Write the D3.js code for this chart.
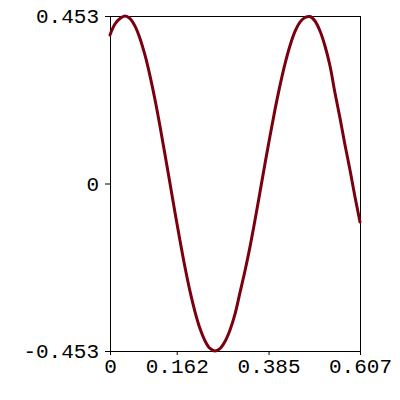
<!DOCTYPE html>
<html><head><meta charset="utf-8">
<script src="https://cdn.jsdelivr.net/npm/d3@7"></script>
<style>
html,body{margin:0;padding:0;background:#fff;}
svg{display:block;}
.tick text{font-family:"Liberation Mono",monospace;font-size:21px;fill:#000;}
</style></head><body>
<svg id="c" width="400" height="400"></svg>
<script>
const xValues = [0, 0.0121, 0.0243, 0.0364, 0.0486, 0.0607, 0.0728, 0.085, 0.0971, 0.1093, 0.1214, 0.1335, 0.1457, 0.1578, 0.17, 0.1821, 0.1942, 0.2064, 0.2185, 0.2307, 0.2428, 0.2549, 0.2671, 0.2792, 0.2914, 0.3035, 0.3156, 0.3278, 0.3399, 0.3521, 0.3642, 0.3763, 0.3885, 0.4006, 0.4128, 0.4249, 0.437, 0.4492, 0.4613, 0.4735, 0.4856, 0.4977, 0.5099, 0.522, 0.5342, 0.5463, 0.5584, 0.5706, 0.5827, 0.5949, 0.607];
const yValues = [0.4016, 0.4313, 0.4462, 0.453, 0.446, 0.4256, 0.3924, 0.3469, 0.2912, 0.2265, 0.1549, 0.0787, 0, -0.0787, -0.1549, -0.2265, -0.2912, -0.3469, -0.3924, -0.4256, -0.4462, -0.453, -0.4465, -0.4273, -0.3962, -0.3535, -0.2950, -0.2360, -0.1714, -0.0987, -0.023, 0.0535, 0.1284, 0.1998, 0.2655, 0.3237, 0.3726, 0.4113, 0.4365, 0.4489, 0.4516, 0.4394, 0.4124, 0.3718, 0.3177, 0.2447, 0.1771, 0.1041, 0.0365, -0.0365, -0.1041];
const xTicks = [0, 0.162, 0.385, 0.607];
const xTickLabels = ["0", "0.162", "0.385", "0.607"];
const yTicks = [-0.453, 0, 0.453];
const yTickLabels = ["-0.453", "0", "0.453"];

const L = 110, R = 360, T = 16, B = 351;
const svg = d3.select("#c");
const x = d3.scaleLinear().domain([0, 0.607]).range([L, R]);
const y = d3.scaleLinear().domain([-0.453, 0.453]).range([B, T]);

svg.append("g").attr("transform", `translate(0,${B})`)
  .call(d3.axisBottom(x).tickValues(xTicks).tickFormat((d,i)=>xTickLabels[i]).tickSize(4).tickPadding(3))
  .call(g=>g.select(".domain").remove())
  .call(g=>g.selectAll(".tick line").attr("stroke","#000"));

svg.append("g").attr("transform", `translate(${L},0)`)
  .call(d3.axisLeft(y).tickValues(yTicks).tickFormat((d,i)=>yTickLabels[i]).tickSize(5).tickPadding(6))
  .call(g=>g.select(".domain").remove())
  .call(g=>g.selectAll(".tick line").attr("stroke","#000"));

svg.append("rect").attr("x", L).attr("y", T).attr("width", R-L).attr("height", B-T)
  .attr("fill","none").attr("stroke","#000").attr("stroke-width",1).attr("shape-rendering","crispEdges");

const pts = xValues.map((v,i)=>[v, yValues[i]]);
svg.append("path").datum(pts)
  .attr("fill","none").attr("stroke","#7a0010").attr("stroke-width",3)
  .attr("stroke-linejoin","round").attr("stroke-linecap","round")
  .attr("d", d3.line().x(d=>x(d[0])).y(d=>y(d[1])).curve(d3.curveCatmullRom));
</script></body></html>
